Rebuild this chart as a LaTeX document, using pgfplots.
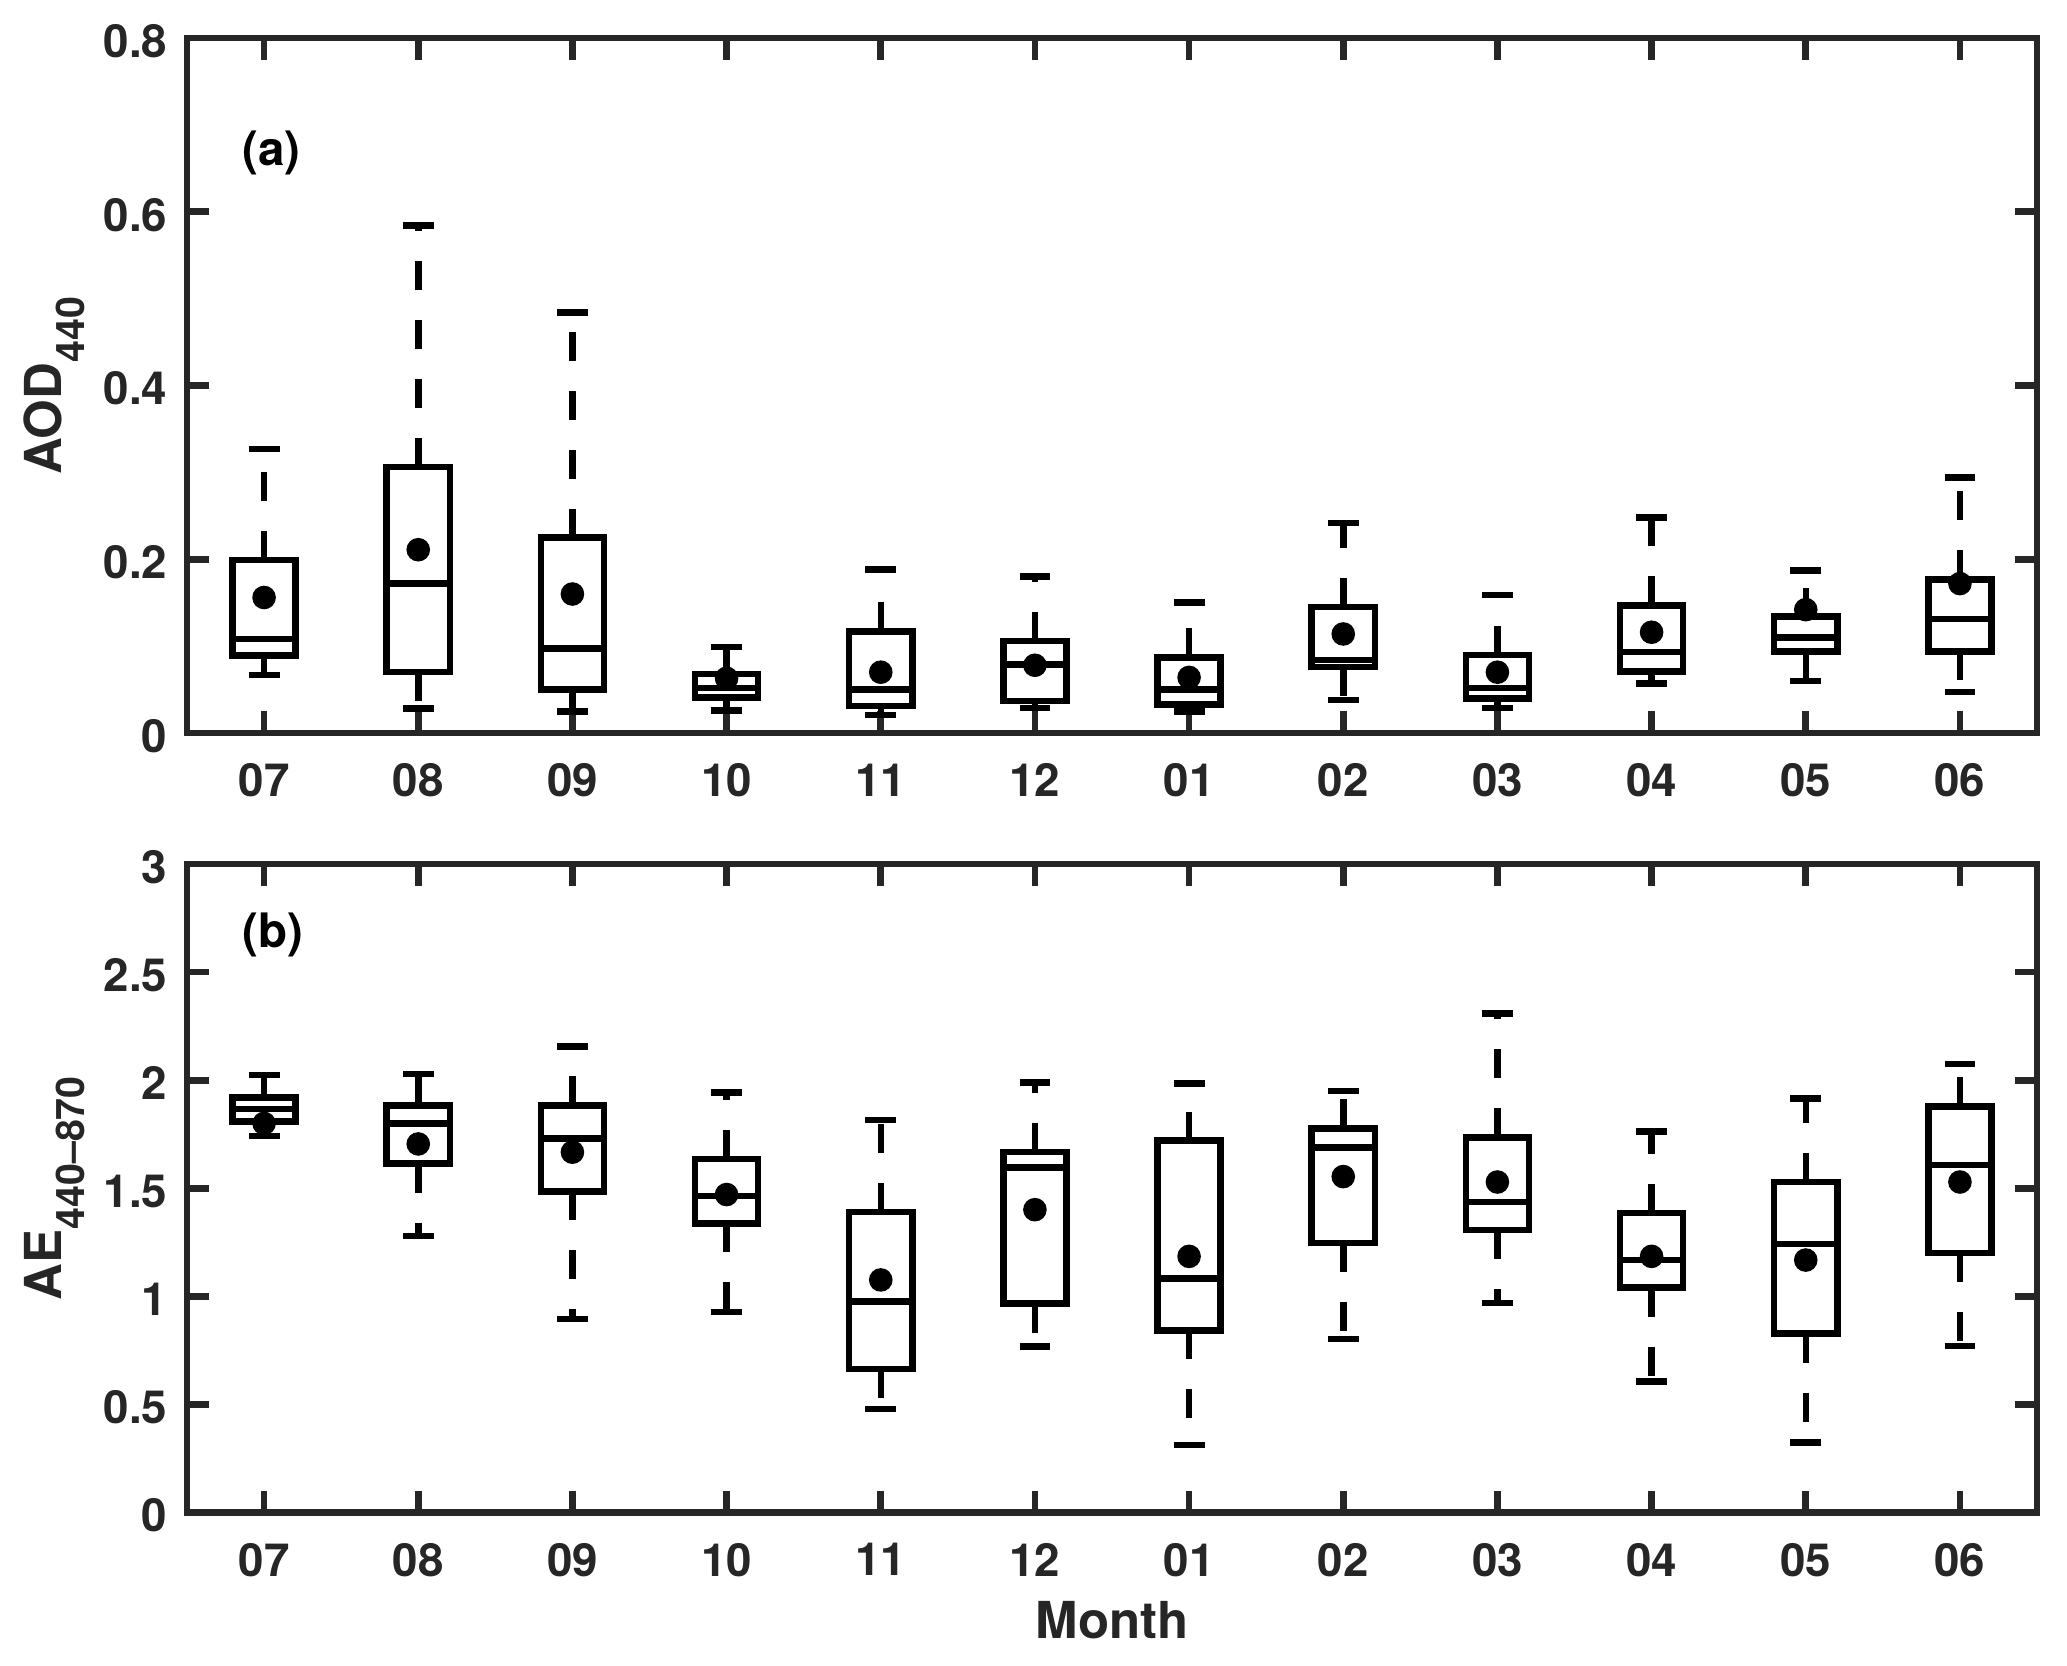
\documentclass[border=0pt]{standalone}
\usepackage{pgfplots}
\pgfplotsset{compat=1.18}
\usepgfplotslibrary{statistics}
\usepackage{fontspec}
\setmainfont{TeX Gyre Heros}

\definecolor{axgray}{RGB}{38,38,38}
% lowered, smaller subscript as in the MATLAB labels
\newcommand\sub[1]{\raisebox{-0.23cm}{\fontsize{11.2}{12}\selectfont #1}}
% one prepared box: position, lower whisker, q1, median, q3, upper whisker, mean
\newcommand\bx[7]{\addplot[bxs, boxplot prepared={draw position=#1,
  lower whisker=#2, lower quartile=#3, median=#4,
  upper quartile=#5, upper whisker=#6, average=#7}] coordinates {};}

\pgfplotsset{
  panel/.style={
    scale only axis, width=18.5cm,
    xmin=0.5, xmax=12.5,
    xtick={1,...,12},
    xticklabels={07,08,09,10,11,12,01,02,03,04,05,06},
    axis line style={line width=0.067cm, axgray},
    tick style={line width=0.067cm, axgray},
    major tick length=0.22cm,
    tick align=inside,
    /pgf/number format/assume math mode=true,
    tick label style={font=\fontsize{13}{13}\selectfont\bfseries, text=axgray, inner sep=0pt},
    xticklabel style={yshift=-0.30cm},
    yticklabel style={xshift=-0.19cm, yshift=-0.03cm},
    label style={font=\fontsize{14.5}{15}\selectfont\bfseries, text=axgray, inner sep=0pt},
    ylabel style={at={(axis description cs:-0.0676,0.5)}, anchor=base},
    clip=false,
    boxplot/draw direction=y,
    boxplot/box extend=0.41,
    boxplot/whisker extend=0.2,
    boxplot/every average/.style={/tikz/mark=*, /tikz/mark size=0.085cm,
      /tikz/fill=black, /tikz/line width=0.3pt},
  },
  bxs/.style={black, solid, line width=0.065cm},
  boxplot/draw/lower whisker/.code={%
    \draw[dash pattern=on 0.29cm off 0.30cm]
      (boxplot box cs:\pgfplotsboxplotvalue{lower quartile},0.5) --
      (boxplot box cs:\pgfplotsboxplotvalue{lower whisker},0.5);
    \draw (boxplot whisker cs:\pgfplotsboxplotvalue{lower whisker},0) --
      (boxplot whisker cs:\pgfplotsboxplotvalue{lower whisker},1);
  },
  boxplot/draw/upper whisker/.code={%
    \draw[dash pattern=on 0.29cm off 0.30cm]
      (boxplot box cs:\pgfplotsboxplotvalue{upper quartile},0.5) --
      (boxplot box cs:\pgfplotsboxplotvalue{upper whisker},0.5);
    \draw (boxplot whisker cs:\pgfplotsboxplotvalue{upper whisker},0) --
      (boxplot whisker cs:\pgfplotsboxplotvalue{upper whisker},1);
  },
}

\begin{document}
\begin{tikzpicture}
\path[use as bounding box] (0,0) rectangle (20.67,-16.65);

% (a) AOD
\begin{axis}[panel,
  at={(1.87cm,-7.33cm)}, anchor=south west, height=6.95cm,
  ymin=0, ymax=0.8, ytick={0,0.2,0.4,0.6,0.8},
  ylabel={AOD\sub{440}},
]
\bx{1}{0.067}{0.089}{0.108}{0.199}{0.327}{0.156}
\bx{2}{0.028}{0.070}{0.172}{0.306}{0.584}{0.211}
\bx{3}{0.025}{0.050}{0.097}{0.225}{0.484}{0.160}
\bx{4}{0.026}{0.041}{0.052}{0.068}{0.099}{0.063}
\bx{5}{0.021}{0.031}{0.050}{0.117}{0.188}{0.070}
\bx{6}{0.029}{0.037}{0.079}{0.106}{0.180}{0.078}
\bx{7}{0.025}{0.033}{0.050}{0.087}{0.150}{0.064}
\bx{8}{0.038}{0.076}{0.084}{0.145}{0.242}{0.114}
\bx{9}{0.029}{0.040}{0.052}{0.090}{0.159}{0.070}
\bx{10}{0.057}{0.071}{0.093}{0.147}{0.248}{0.116}
\bx{11}{0.060}{0.094}{0.110}{0.134}{0.187}{0.142}
\bx{12}{0.047}{0.094}{0.131}{0.177}{0.294}{0.172}
\node[anchor=base west, inner sep=0pt, font=\fontsize{13.5}{14}\selectfont\bfseries]
  at (axis cs:0.857,0.653) {(a)};
\end{axis}

% (b) AE
\begin{axis}[panel,
  at={(1.87cm,-15.125cm)}, anchor=south west, height=6.485cm,
  ymin=0, ymax=3, ytick={0,0.5,1,1.5,2,2.5,3},
  ylabel={AE\sub{440–870}},
  xlabel={Month},
  xlabel style={at={(axis description cs:0.5,-0.1937)}, anchor=base},
]
\bx{1}{1.741}{1.809}{1.866}{1.921}{2.023}{1.800}
\bx{2}{1.280}{1.614}{1.800}{1.883}{2.028}{1.705}
\bx{3}{0.896}{1.486}{1.730}{1.883}{2.155}{1.667}
\bx{4}{0.928}{1.338}{1.465}{1.635}{1.943}{1.471}
\bx{5}{0.478}{0.665}{0.977}{1.391}{1.815}{1.076}
\bx{6}{0.769}{0.966}{1.597}{1.667}{1.989}{1.401}
\bx{7}{0.312}{0.843}{1.083}{1.720}{1.985}{1.185}
\bx{8}{0.803}{1.248}{1.688}{1.777}{1.949}{1.554}
\bx{9}{0.970}{1.306}{1.437}{1.735}{2.308}{1.529}
\bx{10}{0.605}{1.040}{1.168}{1.386}{1.762}{1.185}
\bx{11}{0.325}{0.828}{1.242}{1.529}{1.915}{1.168}
\bx{12}{0.771}{1.200}{1.607}{1.879}{2.076}{1.529}
\node[anchor=base west, inner sep=0pt, font=\fontsize{13.5}{14}\selectfont\bfseries]
  at (axis cs:0.857,2.616) {(b)};
\end{axis}
\end{tikzpicture}
\end{document}
